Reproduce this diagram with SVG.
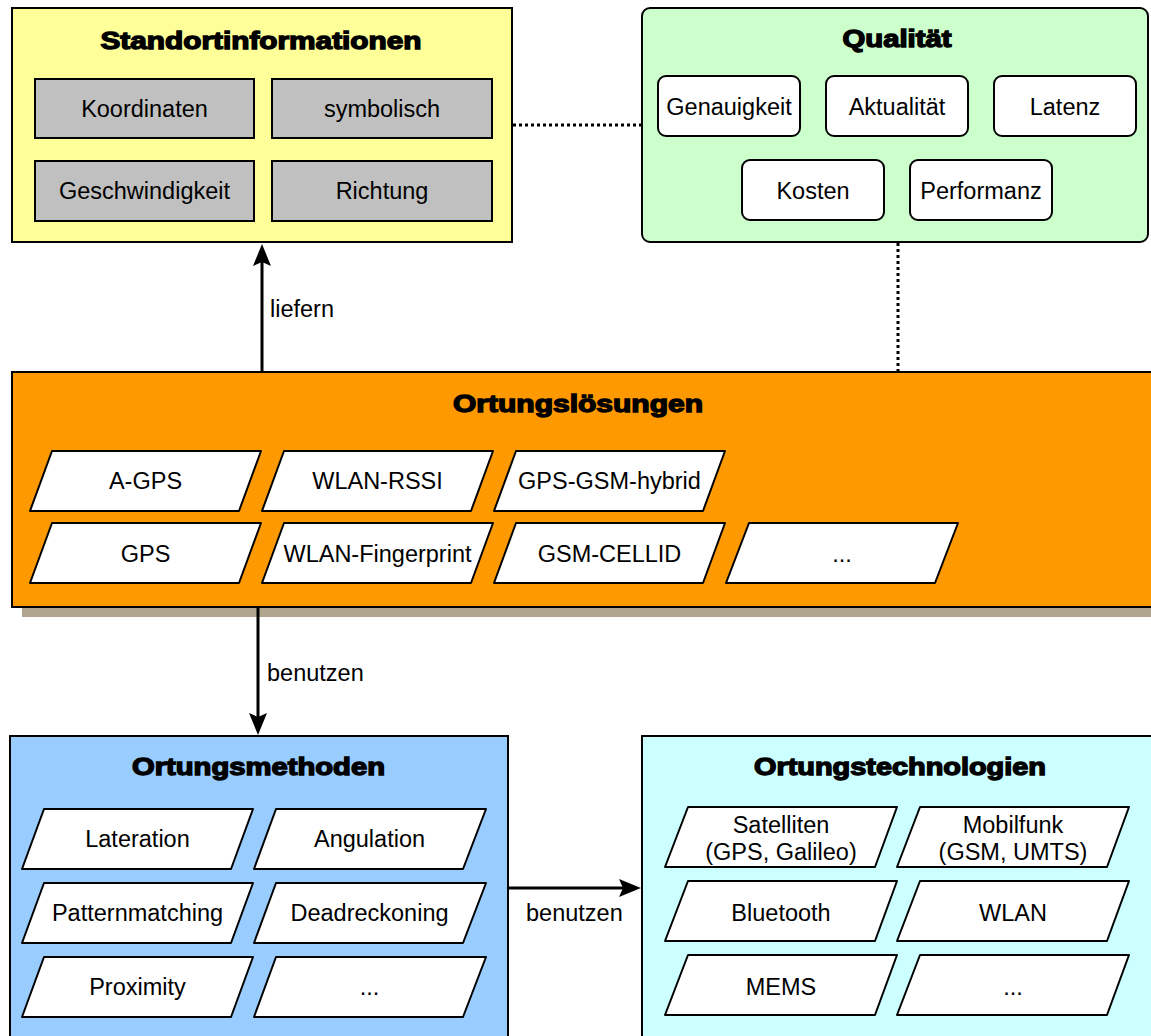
<svg xmlns="http://www.w3.org/2000/svg" width="1151" height="1036" viewBox="0 0 1151 1036">
  <defs>
    <style>
      .frame { stroke: #000; stroke-width: 2; }
      .item { fill: #fff; stroke: #000; stroke-width: 2; stroke-linejoin: round; }
      .gray { fill: #c0c0c0; stroke: #000; stroke-width: 2; }
      .title { font-family: "Liberation Sans", Arial, sans-serif; font-weight: bold; font-size: 23px; fill: #000; stroke: #000; stroke-width: 1.3; text-anchor: middle; }
      .lbl { font-family: "Liberation Sans", Arial, sans-serif; font-size: 23.5px; fill: #000; text-anchor: middle; }
      .edge-lbl { font-family: "Liberation Sans", Arial, sans-serif; font-size: 23.5px; fill: #000; }
      .arrow { stroke: #000; stroke-width: 3; fill: none; }
      .dotted { stroke: #000; stroke-width: 3; fill: none; stroke-dasharray: 3 3; }
    </style>
    <marker id="head" viewBox="0 0 22 18" refX="12" refY="9" markerWidth="22" markerHeight="18" markerUnits="userSpaceOnUse" orient="auto">
      <path d="M0,0 L22,9 L0,18 L4,9 Z" fill="#000"/>
    </marker>
  </defs>

  <!-- Standortinformationen -->
  <g id="standortinformationen">
    <rect class="frame" x="12" y="8" width="500" height="234" fill="#ffff99"/>
    <text class="title" x="261" y="49" textLength="321" lengthAdjust="spacingAndGlyphs">Standortinformationen</text>
    <rect class="gray" x="35" y="79" width="219" height="59"/>
    <text class="lbl" x="144.5" y="117">Koordinaten</text>
    <rect class="gray" x="272" y="79" width="220" height="59"/>
    <text class="lbl" x="382" y="117">symbolisch</text>
    <rect class="gray" x="35" y="161" width="219" height="60"/>
    <text class="lbl" x="144.5" y="199">Geschwindigkeit</text>
    <rect class="gray" x="272" y="161" width="220" height="60"/>
    <text class="lbl" x="382" y="199">Richtung</text>
  </g>

  <!-- Qualität -->
  <g id="qualitaet">
    <rect class="frame" x="642" y="8" width="506" height="234" rx="8" fill="#ccffcc"/>
    <text class="title" x="897" y="47" textLength="109" lengthAdjust="spacingAndGlyphs">Qualität</text>
    <rect class="item" x="658" y="76" width="142" height="60" rx="8"/>
    <text class="lbl" x="729" y="115">Genauigkeit</text>
    <rect class="item" x="826" y="76" width="142" height="60" rx="8"/>
    <text class="lbl" x="897" y="115">Aktualität</text>
    <rect class="item" x="994" y="76" width="142" height="60" rx="8"/>
    <text class="lbl" x="1065" y="115">Latenz</text>
    <rect class="item" x="742" y="160" width="142" height="60" rx="8"/>
    <text class="lbl" x="813" y="199">Kosten</text>
    <rect class="item" x="910" y="160" width="142" height="60" rx="8"/>
    <text class="lbl" x="981" y="199">Performanz</text>
  </g>

  <!-- Ortungslösungen -->
  <g id="ortungsloesungen">
    <rect x="22" y="382" width="1140" height="235" fill="#b1a590"/>
    <rect class="frame" x="12" y="372" width="1150" height="235" fill="#ff9900"/>
    <text class="title" x="578" y="412" textLength="250" lengthAdjust="spacingAndGlyphs">Ortungslösungen</text>
    <polygon class="item" points="52,451 261,451 239,511 30,511"/>
    <text class="lbl" x="145.5" y="489">A-GPS</text>
    <polygon class="item" points="284,451 493,451 471,511 262,511"/>
    <text class="lbl" x="377.5" y="489">WLAN-RSSI</text>
    <polygon class="item" points="516,451 725,451 703,511 494,511"/>
    <text class="lbl" x="609.5" y="489">GPS-GSM-hybrid</text>
    <polygon class="item" points="52,523 261,523 239,583 30,583"/>
    <text class="lbl" x="145.5" y="562">GPS</text>
    <polygon class="item" points="284,523 493,523 471,583 262,583"/>
    <text class="lbl" x="377.5" y="562">WLAN-Fingerprint</text>
    <polygon class="item" points="516,523 725,523 703,583 494,583"/>
    <text class="lbl" x="609.5" y="562">GSM-CELLID</text>
    <polygon class="item" points="749,523 958,523 935,583 726,583"/>
    <text class="lbl" x="842" y="562">...</text>
  </g>

  <!-- Ortungsmethoden -->
  <g id="ortungsmethoden">
    <rect class="frame" x="10" y="736" width="498" height="310" fill="#99ccff"/>
    <text class="title" x="258.5" y="775" textLength="253" lengthAdjust="spacingAndGlyphs">Ortungsmethoden</text>
    <polygon class="item" points="44,809 253,809 231,869 22,869"/>
    <text class="lbl" x="137.5" y="847">Lateration</text>
    <polygon class="item" points="276,809 486,809 463,869 254,869"/>
    <text class="lbl" x="369.5" y="847">Angulation</text>
    <polygon class="item" points="44,883 253,883 231,943 22,943"/>
    <text class="lbl" x="137.5" y="921">Patternmatching</text>
    <polygon class="item" points="276,883 486,883 463,943 254,943"/>
    <text class="lbl" x="369.5" y="921">Deadreckoning</text>
    <polygon class="item" points="44,957 253,957 231,1017 22,1017"/>
    <text class="lbl" x="137.5" y="995">Proximity</text>
    <polygon class="item" points="276,957 486,957 463,1017 254,1017"/>
    <text class="lbl" x="369.5" y="995">...</text>
  </g>

  <!-- Ortungstechnologien -->
  <g id="ortungstechnologien">
    <rect class="frame" x="642" y="736" width="520" height="310" fill="#ccffff"/>
    <text class="title" x="900" y="775" textLength="292" lengthAdjust="spacingAndGlyphs">Ortungstechnologien</text>
    <polygon class="item" points="688,807 897,807 875,867 665,867"/>
    <text class="lbl" x="781" y="833">Satelliten</text>
    <text class="lbl" x="781" y="860">(GPS, Galileo)</text>
    <polygon class="item" points="920,807 1129,807 1107,867 897,867"/>
    <text class="lbl" x="1013" y="833">Mobilfunk</text>
    <text class="lbl" x="1013" y="860">(GSM, UMTS)</text>
    <polygon class="item" points="688,881 897,881 875,941 665,941"/>
    <text class="lbl" x="781" y="921">Bluetooth</text>
    <polygon class="item" points="920,881 1129,881 1107,941 897,941"/>
    <text class="lbl" x="1013" y="921">WLAN</text>
    <polygon class="item" points="688,955 897,955 875,1015 665,1015"/>
    <text class="lbl" x="781" y="995">MEMS</text>
    <polygon class="item" points="920,955 1129,955 1107,1015 897,1015"/>
    <text class="lbl" x="1013" y="995">...</text>
  </g>

  <!-- Connectors -->
  <g id="connectors">
    <line class="dotted" x1="513" y1="125" x2="641" y2="125"/>
    <line class="dotted" x1="898" y1="243" x2="898" y2="371"/>
    <line class="arrow" x1="262" y1="372" x2="262" y2="254" marker-end="url(#head)"/>
    <text class="edge-lbl" x="270" y="317">liefern</text>
    <line class="arrow" x1="258" y1="607" x2="258" y2="725" marker-end="url(#head)"/>
    <text class="edge-lbl" x="267" y="681">benutzen</text>
    <line class="arrow" x1="509" y1="888" x2="631" y2="888" marker-end="url(#head)"/>
    <text class="edge-lbl" x="526" y="921">benutzen</text>
  </g>
</svg>
